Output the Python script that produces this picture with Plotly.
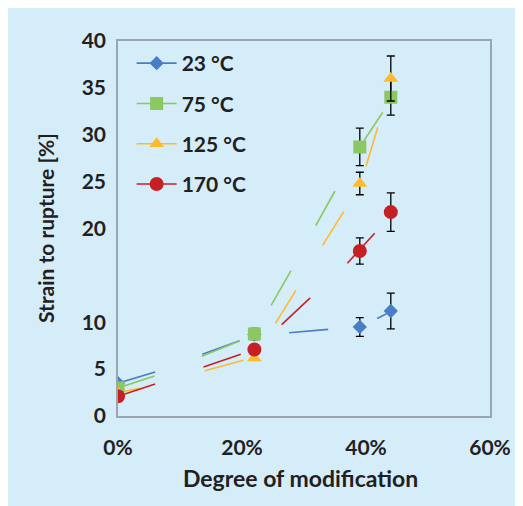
import plotly.graph_objects as go

# ---- data ----
degree = [0, 22, 39, 44]  # % modification
series_names = ["23 °C", "75 °C", "125 °C", "170 °C"]

strain_23 = [3.5, 8.7, 9.5, 11.2]
strain_75 = [3.0, 8.75, 28.7, 34.0]
strain_125 = [2.5, 6.2, 24.8, 36.0]
strain_170 = [2.1, 7.1, 17.6, 21.75]

err_23 = [None, None, 1.0, 1.9]
err_75 = [None, 0.6, 2.0, 1.9]
err_125 = [None, None, 1.2, 2.4]
err_170 = [None, None, 1.4, 2.05]

# broken connecting-line pieces as seen in the picture (data units)
seg_x_23 = [0, 6.0, None, 13.6, 19.6, None, 27.6, 33.9, None, 41.8, 43.3]
seg_y_23 = [3.5, 4.69, None, 6.58, 8.03, None, 8.88, 9.24, None, 10.4, 10.9]
seg_x_75 = [0, 5.9, None, 13.5, 19.6, None, 24.7, 27.9, None, 31.9, 35.0, None, 39.7, 42.7]
seg_y_75 = [3.0, 4.26, None, 6.37, 8.0, None, 11.8, 15.5, None, 20.3, 24.0, None, 29.4, 32.4]
seg_x_125 = [0, 3.5, None, 14.0, 20.2, None, 25.4, 28.7, None, 33.0, 36.4, None, 40.0, 41.9]
seg_y_125 = [2.5, 2.95, None, 4.83, 5.94, None, 9.88, 13.4, None, 18.2, 21.8, None, 26.65, 30.8]
seg_x_170 = [0, 6.0, None, 13.8, 19.8, None, 26.4, 31.0, None, 37.0, 41.4]
seg_y_170 = [2.1, 3.41, None, 5.22, 6.58, None, 9.74, 12.6, None, 16.3, 19.5]

y_tickvals = [0, 5, 10, 20, 25, 30, 35, 40]
x_tickvals = [0, 20, 40, 60]
x_ticktext = ["0%", "20%", "40%", "60%"]

# ---- styling ----
colors = ["#4A7EC4", "#8BC862", "#FDBB2A", "#C42026"]
symbols = ["diamond", "square", "triangle-up", "circle"]
sizes = [11, 13, 13, 14]
bg = "#D5ECF9"
txt = "#231F20"
FONT = "Lato"

values = [strain_23, strain_75, strain_125, strain_170]
errs = [err_23, err_75, err_125, err_170]
segx = [seg_x_23, seg_x_75, seg_x_125, seg_x_170]
segy = [seg_y_23, seg_y_75, seg_y_125, seg_y_170]

fig = go.Figure()

# line pieces first (beneath markers)
for i in range(4):
    fig.add_trace(go.Scatter(
        x=segx[i], y=segy[i], mode="lines",
        line=dict(color=colors[i], width=1.6),
        showlegend=False, hoverinfo="skip", connectgaps=False,
    ))

# markers with error bars
for i in range(4):
    fig.add_trace(go.Scatter(
        x=degree, y=values[i], mode="markers",
        marker=dict(symbol=symbols[i], size=sizes[i], color=colors[i],
                    line=dict(width=0)),
        error_y=dict(type="data", array=errs[i], visible=True,
                     color="black", thickness=1.3, width=4),
        showlegend=False,
    ))

# legend entries
for i in range(4):
    fig.add_trace(go.Scatter(
        x=[None], y=[None], mode="lines+markers", name=series_names[i],
        line=dict(color=colors[i], width=1.6),
        marker=dict(symbol=symbols[i], size=sizes[i], color=colors[i]),
        legendgroup=f"g{i}",
    ))

# page body has an 8px margin, so figure is 8px shorter/narrower than window
W, H = 515, 498
ml, mr, mt, mb = 110, 23, 33, 90
pw, ph = W - ml - mr, H - mt - mb


def px_x(p):
    return (p - ml) / pw


def px_y(p):
    return (H - mb - p) / ph


fig.update_layout(
    width=W, height=H,
    margin=dict(l=ml, r=mr, t=mt, b=mb),
    paper_bgcolor=bg, plot_bgcolor=bg,
    font=dict(family=FONT, color=txt, size=18),
    showlegend=True,
    legend=dict(
        x=px_x(124), y=px_y(35), xanchor="left", yanchor="top",
        bgcolor="rgba(0,0,0,0)", borderwidth=0,
        font=dict(family=FONT, size=21, color=txt, weight="bold"),
        tracegroupgap=10, itemwidth=40,
    ),
    xaxis=dict(
        range=[0, 60], tickvals=x_tickvals, ticktext=x_ticktext,
        showgrid=False, zeroline=False,
        showline=True, mirror=True, linecolor="#9AA5AE", linewidth=1.5,
        ticks="outside", ticklen=12, tickcolor="rgba(0,0,0,0)",
        tickfont=dict(family=FONT, size=21, color=txt, weight="bold"),
    ),
    yaxis=dict(
        range=[0, 40], tickvals=y_tickvals,
        showgrid=False, zeroline=False,
        showline=True, mirror=True, linecolor="#9AA5AE", linewidth=1.5,
        ticks="outside", ticklen=6, tickcolor="rgba(0,0,0,0)",
        tickfont=dict(family=FONT, size=21, color=txt, weight="bold"),
    ),
    annotations=[
        dict(text="Degree of modification", xref="paper", yref="paper",
             x=px_x(297), y=px_y(470), xanchor="center", yanchor="middle",
             showarrow=False,
             font=dict(family=FONT, size=23, color=txt, weight="bold")),
        dict(text="Strain to rupture [%]", xref="paper", yref="paper",
             x=px_x(35), y=px_y(220), xanchor="center", yanchor="middle",
             textangle=-90, showarrow=False,
             font=dict(family=FONT, size=21, color=txt, weight="bold")),
    ],
)

fig.write_html("out.html")
